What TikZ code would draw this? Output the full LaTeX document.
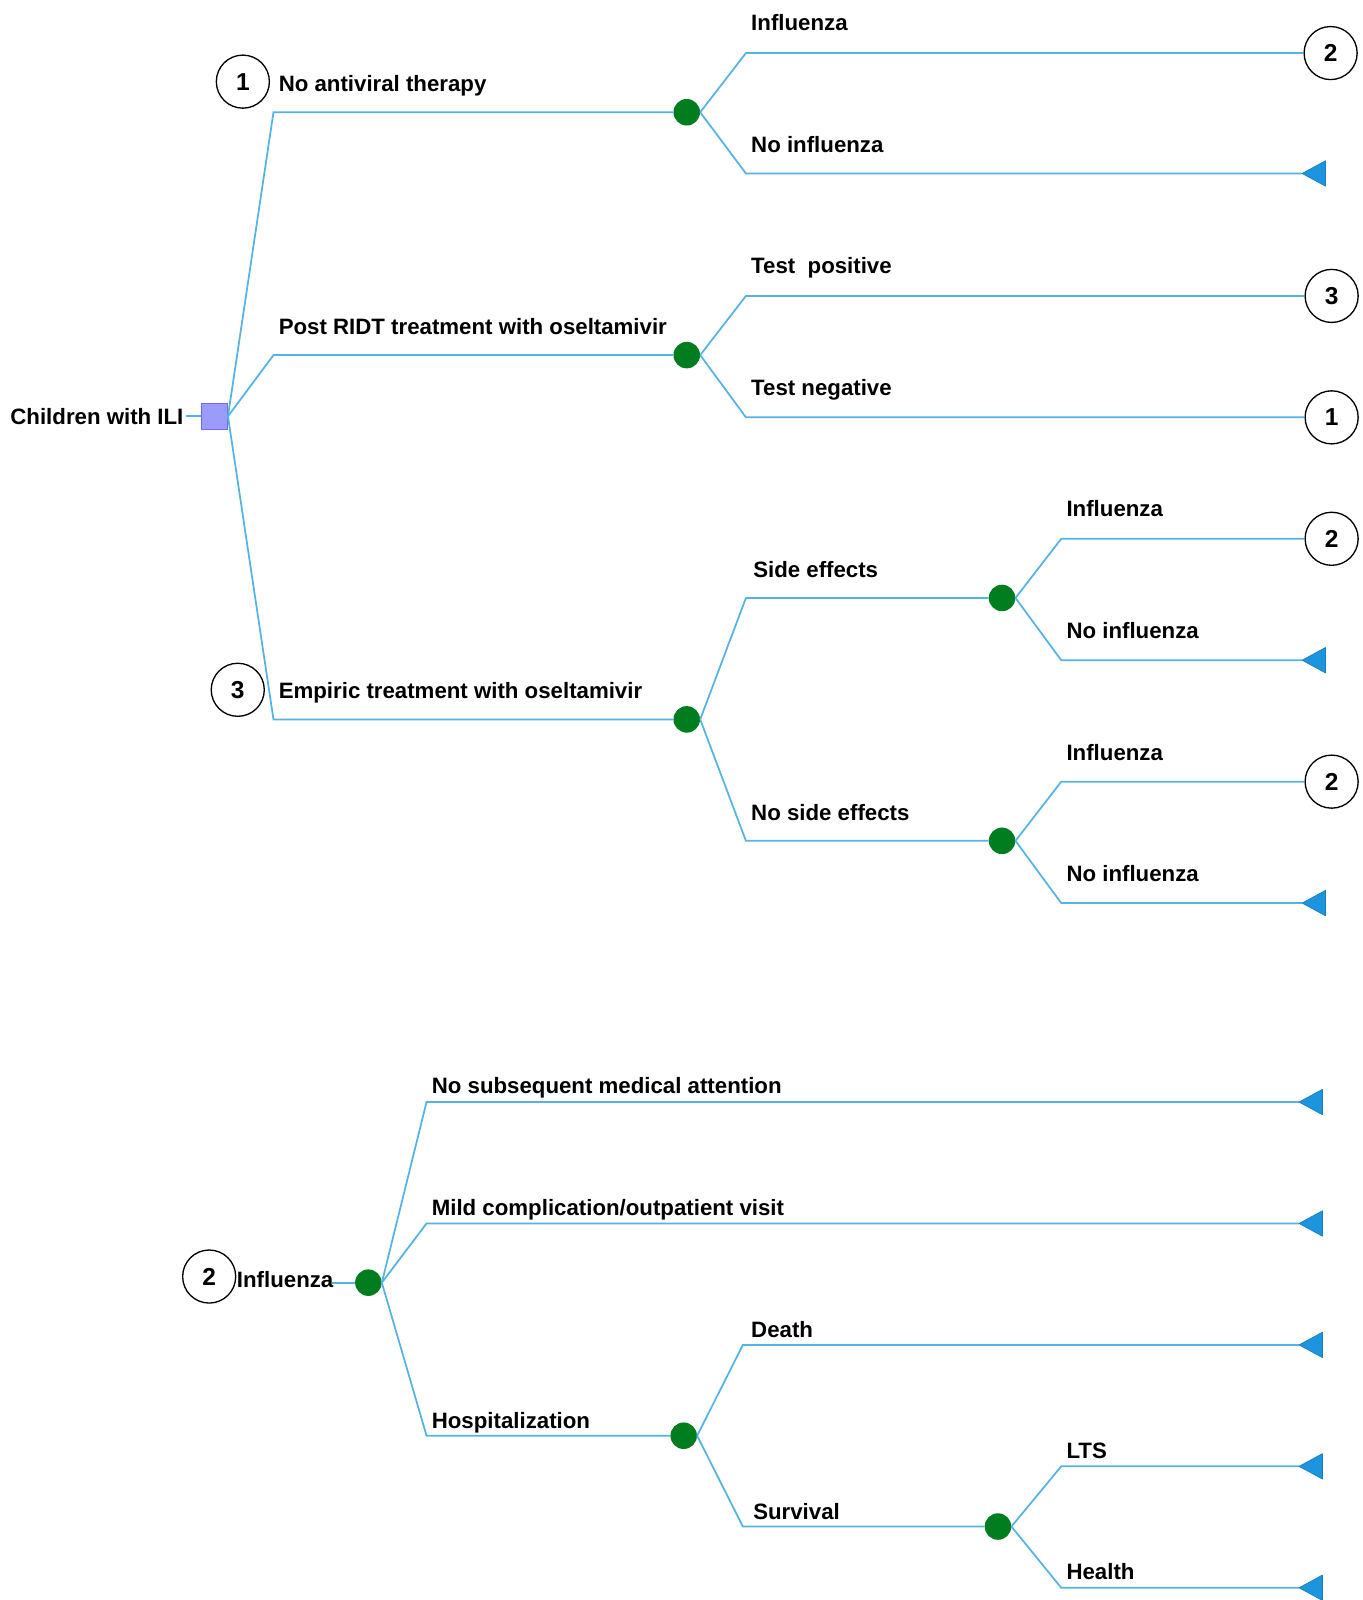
\documentclass[tikz,border=0pt]{standalone}
\usepackage{fontspec}
\setmainfont{Liberation Sans}
\definecolor{linec}{RGB}{84,178,228}
\definecolor{dgreen}{RGB}{0,125,30}
\definecolor{sqfill}{RGB}{155,155,250}
\definecolor{tric}{RGB}{28,148,222}
\begin{document}
\begin{tikzpicture}[x=1pt,y=-1pt,
  br/.style={draw=linec,line width=1.7pt},
  chance/.style={circle,fill=dgreen,minimum size=26pt,inner sep=0pt},
  refc/.style={circle,draw=black,line width=1.3pt,fill=white,minimum size=52pt,inner sep=0pt,font=\fontsize{24}{24}\selectfont\bfseries},
  lbl/.style={anchor=base west,inner sep=0pt,font=\fontsize{21.8}{24}\selectfont\bfseries},
  tri/.style={fill=tric,draw=tric!85!black,line width=0.6pt,line join=round}
]
\useasboundingbox (0,0) rectangle (1335,1568);

% ---------- top tree ----------
\node[draw=sqfill!70!blue,fill=sqfill,minimum size=26pt,inner sep=0pt,line width=0.8pt] (d) at (210,408) {};
\node[lbl] (tch) at (10,416) {Children with ILI};
\draw[br] (d.west) -- ++(-14,0);

\node[chance] (c1) at (673,110) {};
\node[chance] (c2) at (673,348) {};
\node[chance] (c3) at (673,705) {};
\node[chance] (c4) at (982,586) {};
\node[chance] (c5) at (982,824) {};

\draw[br] (d.east) -- (268,110) -- (c1.west);
\draw[br] (d.east) -- (268,348) -- (c2.west);
\draw[br] (d.east) -- (268,705) -- (c3.west);

\node[refc] (l1) at (238,80) {1};
\node[refc] (l3) at (233,676) {3};
\node[lbl] (t1) at (273,90) {No antiviral therapy};
\node[lbl] (t2) at (273,328) {Post RIDT treatment with oseltamivir};
\node[lbl] (t3) at (273,685) {Empiric treatment with oseltamivir};

% terminals top
\node[refc] (r1) at (1304,52) {2};
\coordinate (ta) at (1276,170);
\node[refc] (r2) at (1305,290) {3};
\node[refc] (r3) at (1305,409) {1};
\node[refc] (r4) at (1305,528) {2};
\coordinate (tb) at (1276,647);
\node[refc] (r5) at (1305,766) {2};
\coordinate (tc) at (1276,885);

\draw[br] (c1.east) -- (731,52) -- (r1.west);
\draw[br] (c1.east) -- (731,170) -- (ta);
\draw[br] (c2.east) -- (731,290) -- (r2.west);
\draw[br] (c2.east) -- (731,409) -- (r3.west);
\draw[br] (c3.east) -- (731,586) -- (c4.west);
\draw[br] (c3.east) -- (731,824) -- (c5.west);
\draw[br] (c4.east) -- (1040,528) -- (r4.west);
\draw[br] (c4.east) -- (1040,647) -- (tb);
\draw[br] (c5.east) -- (1040,766) -- (r5.west);
\draw[br] (c5.east) -- (1040,885) -- (tc);

\foreach \t in {ta,tb,tc}{\path[tri] (\t) -- ++(23,-12.5) -- ++(0,25) -- cycle;}

\node[lbl] at (736,30) {Influenza};
\node[lbl] at (736,149) {No influenza};
\node[lbl] at (736,268) {Test\ \ positive};
\node[lbl] at (736,388) {Test negative};
\node[lbl] at (738,566) {Side effects};
\node[lbl] at (736,804) {No side effects};
\node[lbl] at (1045,506) {Influenza};
\node[lbl] at (1045,626) {No influenza};
\node[lbl] at (1045,745) {Influenza};
\node[lbl] at (1045,864) {No influenza};

% ---------- bottom tree ----------
\node[refc] (l2) at (205,1251) {2};
\node[lbl] (ti) at (232,1262) {Influenza};
\node[chance] (b0) at (361,1257) {};
\node[chance] (b1) at (670,1407) {};
\node[chance] (b2) at (978,1496) {};
\draw[br] (b0.west) -- ++(-22,0);

\coordinate (u1) at (1273,1080);
\coordinate (u2) at (1273,1199);
\coordinate (u3) at (1273,1318);
\coordinate (u4) at (1273,1437);
\coordinate (u5) at (1273,1556);

\draw[br] (b0.east) -- (418,1080) -- (u1);
\draw[br] (b0.east) -- (418,1199) -- (u2);
\draw[br] (b0.east) -- (418,1407) -- (b1.west);
\draw[br] (b1.east) -- (728,1318) -- (u3);
\draw[br] (b1.east) -- (728,1496) -- (b2.west);
\draw[br] (b2.east) -- (1040,1437) -- (u4);
\draw[br] (b2.east) -- (1040,1556) -- (u5);

\foreach \t in {u1,u2,u3,u4,u5}{\path[tri] (\t) -- ++(23,-12.5) -- ++(0,25) -- cycle;}

\node[lbl] at (423,1072) {No subsequent medical attention};
\node[lbl] at (423,1191) {Mild complication/outpatient visit};
\node[lbl] at (423,1400) {Hospitalization};
\node[lbl] at (736,1311) {Death};
\node[lbl] at (738,1489) {Survival};
\node[lbl] at (1045,1429) {LTS};
\node[lbl] at (1045,1548) {Health};
\end{tikzpicture}
\end{document}
